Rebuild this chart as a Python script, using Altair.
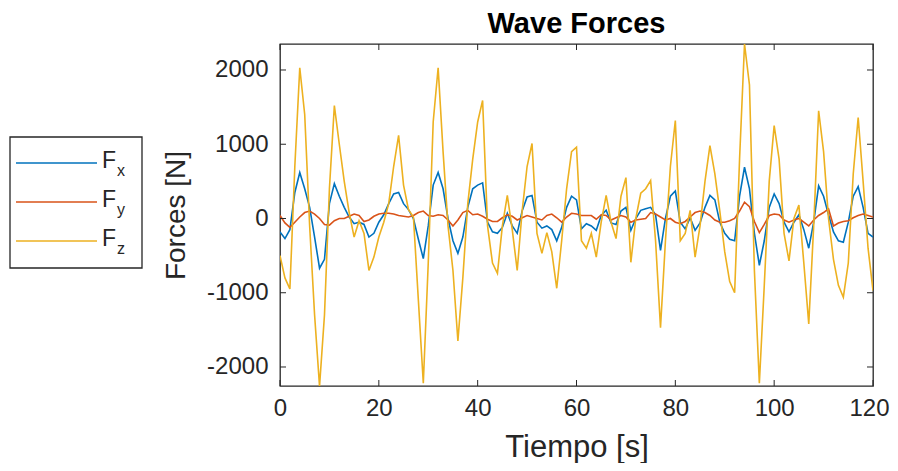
import altair as alt
import pandas as pd

TIME = list(range(0, 121))

FX = [-180, -270, -150, 350, 620, 400, 150, -250, -670, -550, 200, 470, 300, 150, 20, -70, -50, -80, -250, -200,
      -50, 50, 200, 330, 350, 200, 120, 0, -280, -540, -100, 450, 620, 400, 0, -300, -470, -250, 150, 400,
      450, 480, -50, -180, -200, -120, 70, -100, -200, 100, 290, 310, -50, -130, -100, -150, -300, -120, 150, 300,
      250, -140, -70, -100, -160, 40, 110, -60, -80, 100, 150, -160, 0, 110, 130, 150, 50, -430, 0, 300,
      370, -50, -140, 10, -160, -60, 150, 310, 250, -50, -200, -280, -300, 300, 690, 400, -200, -630, -300, 150,
      330, 200, -50, -180, -50, 50, -150, -400, -50, 440, 300, 50, -180, -300, -320, -50, 300, 430, 150, -200, -250]

FY = [40, -60, -120, -50, 20, 80, 100, 60, 0, -80, -90, -30, 0, 0, 30, 60, 40, -40, -20, 30,
      60, 70, 70, 60, 40, 30, 20, 40, 80, 100, 40, 30, 50, 40, -20, -100, -20, 80, 110, 50,
      60, 30, -10, -40, -40, 10, 50, 30, -20, 10, 40, 20, 0, -20, 40, 60, 10, -50, 20, 70,
      60, 40, 40, 40, -10, 50, 40, -20, 10, 40, 20, -50, -20, -10, 0, 80, 60, 20, -20, 0,
      -50, -70, -40, 20, 80, 100, 80, 40, -20, -50, -50, -30, 0, 100, 220, 160, -40, -190, -80, 40,
      60, 50, -20, -50, -20, 0, -50, -100, -20, 40, 80, 130, -100, -60, -40, -30, 10, 40, 60, 40, 20]

FZ = [-500, -800, -950, 700, 2030, 1400, -100, -1300, -2260, -1300, 400, 1520, 1000, 500, 80, -250, -30, -200, -700, -520,
      -250, -50, 200, 700, 1120, 450, 120, 20, -1100, -2220, -600, 1300, 2030, 900, -100, -700, -1650, -800, 200, 800,
      1300, 1590, -100, -600, -740, -100, 310, -150, -700, 100, 700, 1010, -200, -470, -190, -450, -940, -300, 400, 900,
      960, -300, -400, -200, -520, -50, 310, -50, -270, 300, 550, -590, 0, 340, 400, 510, -300, -1470, -300, 700,
      1320, -300, -200, 110, -520, -100, 500, 980, 600, 100, -450, -850, -1000, 800, 2350, 1800, -700, -2220, -900, 500,
      1250, 800, -200, -570, 0, 180, -600, -1420, -100, 1450, 900, 0, -550, -900, -1060, -600, 600, 1360, 500, -400, -970]

SERIES = ["Fx", "Fy", "Fz"]
SUBS = ["x", "y", "z"]
COLORS = ["#0072BD", "#D95319", "#EDB120"]
XTICKS = [0, 20, 40, 60, 80, 100, 120]
YTICKS = [-2000, -1000, 0, 1000, 2000]
XDOMAIN = [0, 120]
YDOMAIN = [-2256, 2350]

W, H = 593, 342
FONT = "Liberation Sans"
AX = "#262626"

rows = []
for name, vals in zip(SERIES, [FX, FY, FZ]):
    for t, v in zip(TIME, vals):
        rows.append({"t": t, "v": v, "s": name})
df = pd.DataFrame(rows)

xs = alt.Scale(domain=XDOMAIN, nice=False, zero=False)
ys = alt.Scale(domain=YDOMAIN, nice=False, zero=False)

last_x = XTICKS[-1]
lines = alt.Chart(df).mark_line(interpolate="linear", strokeWidth=1.6, clip=True).encode(
    x=alt.X("t:Q", scale=xs, title="Tiempo [s]",
            axis=alt.Axis(values=XTICKS, ticks=False, domain=False, grid=False, labelPadding=10,
                          labelFlush=False, labelFontSize=24, titleFontSize=31, titlePadding=12,
                          labelOffset={"condition": {"test": f"datum.value == {last_x}", "value": -4}, "value": 0},
                          labelColor=AX, titleColor=AX, titleFontWeight="normal",
                          labelFont=FONT, titleFont=FONT)),
    y=alt.Y("v:Q", scale=ys, title="Forces [N]",
            axis=alt.Axis(values=YTICKS, ticks=False, domain=False, grid=False, labelPadding=12,
                          labelFlush=False, labelFontSize=24, titleFontSize=28, titlePadding=16,
                          labelColor=AX, titleColor=AX, titleFontWeight="normal",
                          labelFont=FONT, titleFont=FONT,
                          labelExpr="'' + datum.value")),
    color=alt.Color("s:N", scale=alt.Scale(domain=SERIES, range=COLORS), legend=None),
    order=alt.Order("s:N"),
)

xt = pd.DataFrame({"x": XTICKS})
yt = pd.DataFrame({"y": YTICKS})
tk = 6
tick_layers = [
    alt.Chart(xt).mark_rule(color=AX, strokeWidth=1).encode(x=alt.X("x:Q", scale=xs), y=alt.value(H), y2=alt.value(H - tk)),
    alt.Chart(xt).mark_rule(color=AX, strokeWidth=1).encode(x=alt.X("x:Q", scale=xs), y=alt.value(0), y2=alt.value(tk)),
    alt.Chart(yt).mark_rule(color=AX, strokeWidth=1).encode(y=alt.Y("y:Q", scale=ys), x=alt.value(0), x2=alt.value(tk)),
    alt.Chart(yt).mark_rule(color=AX, strokeWidth=1).encode(y=alt.Y("y:Q", scale=ys), x=alt.value(W), x2=alt.value(W - tk)),
]

# custom legend box (left of the plot)
one = pd.DataFrame({"a": [0]})
legend_layers = [
    alt.Chart(one).mark_rect(fill="white", stroke=AX, strokeWidth=1.3, clip=False).encode(
        x=alt.value(-270), x2=alt.value(-138), y=alt.value(93), y2=alt.value(224))
]
for i, (name, sub, col) in enumerate(zip(SERIES, SUBS, COLORS)):
    yy = 119 + i * 39
    legend_layers.append(alt.Chart(one).mark_rule(color=col, strokeWidth=1.6, clip=False).encode(
        x=alt.value(-264), x2=alt.value(-183), y=alt.value(yy)))
    legend_layers.append(alt.Chart(one).mark_text(text="F", font=FONT, fontSize=23, color=AX, align="left",
                                                  baseline="middle", clip=False).encode(
        x=alt.value(-178), y=alt.value(yy - 2)))
    legend_layers.append(alt.Chart(one).mark_text(text=sub, font=FONT, fontSize=16, color=AX, align="left",
                                                  baseline="middle", clip=False).encode(
        x=alt.value(-163), y=alt.value(yy + 8)))

chart = alt.layer(lines, *tick_layers, *legend_layers).properties(
    width=W, height=H,
    title=alt.TitleParams("Wave Forces", font=FONT, fontSize=29, fontWeight="bold", color="#000000",
                          anchor="middle", frame="group", offset=5),
    autosize=alt.AutoSizeParams(type="none"),
    padding={"left": 272, "top": 36, "right": 17, "bottom": 77},
).configure(background="white").configure_view(stroke=AX, strokeWidth=1.3)

chart.save("out.html", embed_options={"renderer": "svg", "actions": False})
